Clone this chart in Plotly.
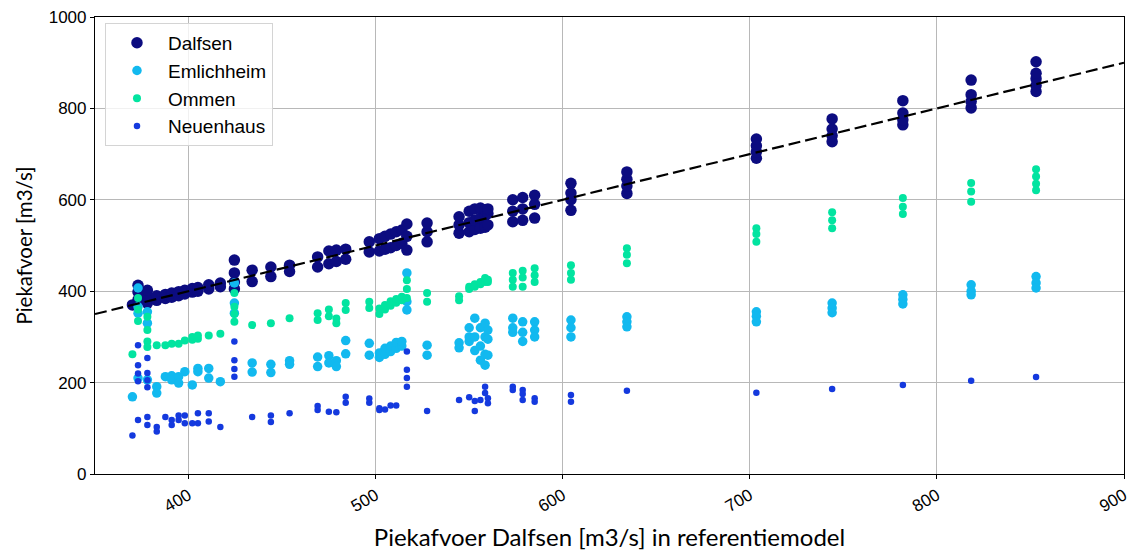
import plotly.graph_objects as go

# Reference-model peak discharge at Dalfsen for each event [m3/s]
ref_peak = [
    370, 373, 378, 383, 387.6, 391, 394.7, 398, 402, 405, 410.8, 417, 424.5,
    434, 444, 454, 469, 475, 479, 484, 496.6, 502, 505, 508, 511, 514, 516.7,
    527.5, 544.6, 550, 553, 556, 558.5, 560, 573.3, 578.6, 585, 604.4,
    634.3, 703.5, 744, 781.8, 818.3, 853,
]

# Peak discharge per station, one list of model-variant results per event [m3/s]
dalfsen = [
    [370], [381, 398, 413], [374, 388, 402], [380, 390], [384, 393], [387, 396],
    [390, 399], [394, 402], [398, 406], [400, 408], [405, 414], [410, 418],
    [405, 420, 440, 468],
    [421, 446], [432, 453], [443, 457], [453, 475], [460, 488], [465, 490],
    [470, 492], [486, 508], [488, 515], [492, 520], [495, 525], [500, 530],
    [505, 534], [490, 520, 547],
    [508, 530, 549], [527, 545, 563], [530, 550, 575], [535, 555, 580],
    [538, 560, 582], [540, 565, 578], [545, 570, 580], [552, 575, 600],
    [555, 580, 605], [560, 590, 610], [577, 600, 615, 636],
    [614, 630, 645, 661], [691, 705, 718, 733], [727, 740, 755, 777],
    [764, 775, 790, 817], [801, 815, 830, 862], [837, 850, 865, 877, 902],
]
emlichheim = [
    [169], [407, 366, 352, 210], [355, 330, 206], [191, 177], [213], [215, 206],
    [213, 199], [224], [195], [231, 224], [231, 210], [202],
    [418, 374, 352],
    [243, 223], [240, 222], [248, 240], [256, 235], [259, 243], [248, 235],
    [292, 263], [286, 260], [255, 265], [262, 275], [268, 280], [275, 288],
    [280, 290], [440, 377, 359],
    [282, 260], [287, 276], [290, 300, 320], [270, 300, 341],
    [249, 280, 320], [238, 262, 300, 330], [260, 295, 315], [341, 320, 310],
    [333, 310, 290], [333, 315, 300], [337, 320, 300],
    [344, 333, 322], [355, 345, 333], [374, 363, 353],
    [392, 382, 372], [414, 400, 392], [432, 418, 407],
]
ommen = [
    [262], [385, 360, 335], [344, 315, 290, 278], [282], [282], [285],
    [285], [292], [294, 300], [296, 303], [303], [307],
    [396, 366, 350, 333],
    [326], [330], [341], [352, 337], [360, 345], [340, 330],
    [374, 359], [377, 363], [350, 362], [360, 370], [368, 378], [375, 383],
    [380, 388], [424, 405, 385],
    [396, 377], [389, 380], [405, 410], [410, 415],
    [415, 420], [420, 429], [420, 425], [440, 425, 410],
    [445, 430, 410], [450, 435, 420], [457, 440, 425],
    [494, 480, 461], [538, 525, 508], [573, 555, 538],
    [604, 585, 569], [637, 618, 596], [667, 651, 635, 621],
]
neuenhaus = [
    [84], [282, 238, 220, 203, 118], [254, 221, 205, 190, 125, 107], [103, 93],
    [125], [118, 107], [128, 118], [128, 111], [111], [133, 111], [133, 115],
    [103], [290, 249, 230, 213],
    [125], [128, 114], [133], [149, 140], [136], [135],
    [169, 156], [165, 156], [144, 140], [141], [150], [150],
    [], [268, 228, 210, 191],
    [138], [162], [168], [160, 138],
    [162], [191, 177], [166, 155], [191, 184],
    [184, 175, 162], [166, 158], [173, 158],
    [182], [178], [186],
    [195], [204], [212],
]

x_ticks = [400, 500, 600, 700, 800, 900]
y_ticks = [0, 200, 400, 600, 800, 1000]

stations = [
    ("Dalfsen", dalfsen, "#0c0c80", 11.5),
    ("Emlichheim", emlichheim, "#12b9ef", 9.5),
    ("Ommen", ommen, "#02e4a0", 8),
    ("Neuenhaus", neuenhaus, "#1439de", 6.5),
]


def flatten(values):
    xs, ys = [], []
    for x, group in zip(ref_peak, values):
        for y in group:
            xs.append(x)
            ys.append(y)
    return xs, ys


fig = go.Figure()

for name, values, color, size in stations:
    xs, ys = flatten(values)
    fig.add_trace(go.Scatter(
        x=xs, y=ys, mode="markers", name=name,
        marker=dict(color=color, size=size, line=dict(width=0)),
    ))

# 1:1 line
fig.add_trace(go.Scatter(
    x=[350, 900], y=[350, 900], mode="lines", showlegend=False,
    line=dict(color="black", width=2.2, dash="12px,5px"),
))

axis_common = dict(
    showline=True, linecolor="black", linewidth=1.2, mirror=True,
    showgrid=True, gridcolor="#b8b8b8", gridwidth=1,
    ticks="outside", ticklen=4, tickcolor="black",
    zeroline=False, automargin=False,
    tickfont=dict(family="Liberation Sans, Arial, sans-serif", size=17, color="black"),
)

fig.update_layout(
    width=1135, height=555,
    margin=dict(l=95, r=11, t=17, b=81),
    paper_bgcolor="white", plot_bgcolor="white",
    xaxis=dict(
        range=[350, 900], tickvals=x_ticks, tickangle=-30,
        title=dict(text="Piekafvoer Dalfsen [m3/s] in referentiemodel",
                   font=dict(family="Lato, sans-serif", size=24, color="black"),
                   standoff=14),
        **axis_common,
    ),
    yaxis=dict(
        range=[0, 1000], tickvals=y_ticks,
        title=dict(text="Piekafvoer [m3/s]",
                   font=dict(family="Lato, sans-serif", size=20.5, color="black"),
                   standoff=10),
        **axis_common,
    ),
    legend=dict(
        x=0.0097, y=0.987, xanchor="left", yanchor="top",
        bgcolor="rgba(255,255,255,0.8)", bordercolor="#d4d4d4", borderwidth=1,
        font=dict(family="Liberation Sans, Arial, sans-serif", size=19, color="black"),
        itemwidth=52,
    ),
)

fig.write_html("out.html")
